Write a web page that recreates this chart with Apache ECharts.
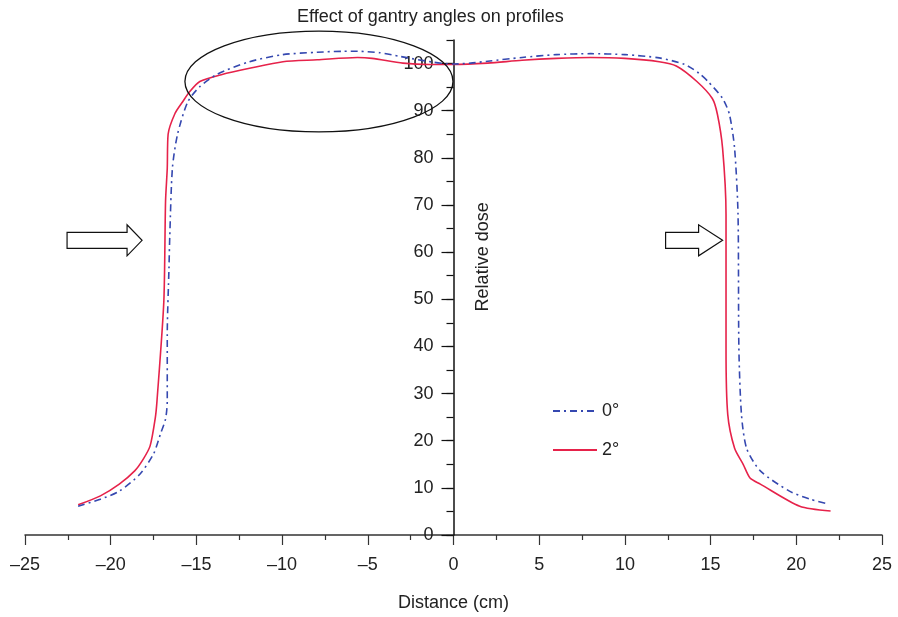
<!DOCTYPE html>
<html><head><meta charset="utf-8">
<script src="https://cdn.jsdelivr.net/npm/echarts@6/dist/echarts.min.js"></script>
<style>html,body{margin:0;padding:0;background:#fff}#c{width:898px;height:617px}</style>
</head><body><div id="c"></div>
<script>
// ---- data ----
const titleText = 'Effect of gantry angles on profiles';
const seriesNames = ['0\u00b0', '2\u00b0'];
const xTickValues = [-25, -20, -15, -10, -5, 0, 5, 10, 15, 20, 25];
const yTickValues = [0, 10, 20, 30, 40, 50, 60, 70, 80, 90, 100];

// 0 degree profile (blue dash-dot)
const x0deg = [-21.9, -20.6, -19.5, -18.3, -17.5, -17.1, -16.8, -16.7, -16.7, -16.6, -16.55, -16.4, -16.1, -15.5, -14.8, -13.8, -11.9, -9.95, -7.95, -6.45, -5.6, -4.3, -3.1, -1.2, 0,
               1, 2, 4, 6, 8, 10, 12, 13.5, 14.3, 14.85, 15.7, 16.1, 16.4, 16.6, 16.65, 16.8, 17.1, 17.9, 19.6, 20.8, 21.85];
const y0deg = [6.1, 7.6, 9.3, 12.9, 17.2, 21.4, 24.6, 28.4, 42.6, 56.6, 63.8, 77.8, 85, 91.9, 95.1, 97.7, 100.4, 101.9, 102.4, 102.6, 102.6, 102.3, 101.5, 100.3, 99.9,
               100.1, 100.5, 101.3, 101.9, 102.1, 101.9, 101.2, 99.8, 98, 96.2, 92.6, 89.2, 82, 68, 39.6, 25.6, 18.4, 13.6, 9.3, 7.6, 6.6];

// 2 degree profile (red solid)
const x2deg = [-21.9, -20.6, -19.5, -18.6, -18.1, -17.7, -17.4, -17.3, -16.9, -16.8, -16.7, -16.65, -16.25, -15.8, -15.4, -14.8, -13.5, -11.9, -9.95, -7.95, -5.6, -4.75, -2.95, -1.4, 0,
               2, 4, 6, 8, 10, 12, 13, 14.2, 15.1, 15.4, 15.7, 15.9, 15.9, 16.0, 16.4, 16.9, 17.3, 17.9, 20.2, 22.0];
const y2deg = [6.4, 8.3, 10.8, 13.6, 16.1, 18.9, 24.8, 28.4, 49.6, 70.8, 77.8, 85, 89.4, 91.9, 94, 96.2, 97.7, 99, 100.4, 100.8, 101.3, 101.1, 100.1, 99.8, 99.8,
               100.1, 100.7, 101.1, 101.3, 101.1, 100.4, 99.5, 96.2, 92.6, 89.2, 82, 68, 39.6, 25.6, 18.4, 15, 12.1, 10.8, 6.1, 5.1];

// annotation anchors in data units
const ellipseCenter = [-7.85, 96.2];
const ellipseRadii = [7.82, 10.7];
const leftArrowTip = [-18.17, 62.5];
const rightArrowTip = [15.7, 62.5];
const yNameAnchor = [1.72, 59];

const zip = (xs, ys) => xs.map((x, i) => [x, ys[i]]);
const fmt = v => (v < 0 ? '\u2013' + Math.abs(v) : String(v));
const FONT = '"Liberation Sans", Arial, Helvetica, sans-serif';
const AX = '#333';
const GRID = { top: 40, bottom: 82 };

const chart = echarts.init(document.getElementById('c'));
const baseOption = {
  animation: false,
  backgroundColor: '#fff',
  textStyle: { fontFamily: FONT },
  title: {
    text: titleText, left: 292, top: 3,
    textStyle: { fontSize: 18, fontWeight: 'normal', color: '#222', fontFamily: FONT }
  },
  legend: {
    orient: 'vertical', left: 547, top: 397,
    itemWidth: 44, itemHeight: 14, itemGap: 21,
    itemStyle: { opacity: 0 },
    textStyle: { fontSize: 18, color: '#222', fontFamily: FONT },
    data: seriesNames
  },
  grid: [
    { left: 25, right: 16, top: GRID.top, bottom: GRID.bottom, containLabel: false, outerBoundsMode: 'none' }
  ],
  xAxis: [{
    type: 'value', min: -25, max: 25, interval: 5, gridIndex: 0,
    name: 'Distance (cm)', nameLocation: 'middle', nameGap: 59,
    nameTextStyle: { fontSize: 18, color: '#222', fontFamily: FONT },
    axisLine: { onZero: false, lineStyle: { color: AX, width: 1.5 } },
    axisTick: { show: true, length: 10, lineStyle: { color: AX, width: 1.2 } },
    minorTick: { show: true, splitNumber: 2, length: 5, lineStyle: { color: AX, width: 1.2 } },
    axisLabel: { fontSize: 18, color: '#222', margin: 21, formatter: fmt, fontFamily: FONT },
    splitLine: { show: false }, minorSplitLine: { show: false }
  }],
  yAxis: [{
    type: 'value', min: 0, max: 105, interval: 5, gridIndex: 0, position: 'left',
    show: false, splitLine: { show: false }
  }],
  series: [{
    name: seriesNames[0], type: 'line', data: zip(x0deg, y0deg), showSymbol: false, symbol: 'none',
    smooth: 0.25, z: 3,
    lineStyle: { color: '#3548b0', width: 1.6, type: [7, 4, 2, 4] },
    itemStyle: { color: '#3548b0' }
  }, {
    name: seriesNames[1], type: 'line', data: zip(x2deg, y2deg), showSymbol: false, symbol: 'none',
    smooth: 0.25, z: 2,
    lineStyle: { color: '#e6224a', width: 1.6, type: 'solid' },
    itemStyle: { color: '#e6224a' }
  }]
};
chart.setOption(baseOption);

const px = d => chart.convertToPixel({ xAxisIndex: 0, yAxisIndex: 0 }, d);
const zeroX = px([0, 0])[0];

function arrowPoints(tip, bodyLen, headLen, bodyHalf, headHalf) {
  const [tx, ty] = tip;
  return [[tx - bodyLen - headLen, ty - bodyHalf], [tx - headLen, ty - bodyHalf], [tx - headLen, ty - headHalf],
          [tx, ty], [tx - headLen, ty + headHalf], [tx - headLen, ty + bodyHalf], [tx - bodyLen - headLen, ty + bodyHalf]];
}
const ec = px(ellipseCenter);
const er = px([ellipseCenter[0] + ellipseRadii[0], ellipseCenter[1] + ellipseRadii[1]]);
const lt = px(leftArrowTip), rt = px(rightArrowTip), yn = px(yNameAnchor);

// second grid whose left edge sits on x = 0 : carries the visible y axis
chart.setOption({
  grid: [
    { left: 25, right: 16, top: GRID.top, bottom: GRID.bottom, containLabel: false, outerBoundsMode: 'none' },
    { left: zeroX, width: 10, top: GRID.top, bottom: GRID.bottom, containLabel: false, outerBoundsMode: 'none' }
  ],
  xAxis: [{}, { type: 'value', gridIndex: 1, show: false, min: 0, max: 1 }],
  yAxis: [{}, {
    type: 'value', min: 0, max: 105, interval: 10, gridIndex: 1, position: 'left',
    axisLine: { show: true, onZero: false, lineStyle: { color: '#111', width: 1.5 } },
    axisTick: { show: true, length: 12, lineStyle: { color: '#111', width: 1.2 }, customValues: yTickValues },
    axisLabel: { fontSize: 18, color: '#222', margin: 20, fontFamily: FONT, customValues: yTickValues,
                 formatter: v => (v > 100 ? '' : String(v)) },
    splitLine: { show: false }
  }, {
    type: 'value', min: 0, max: 105, interval: 5, gridIndex: 1, position: 'left',
    axisLine: { show: false, onZero: false },
    axisTick: { show: true, length: 7, lineStyle: { color: '#111', width: 1.2 } },
    axisLabel: { show: false },
    splitLine: { show: false }
  }],
  graphic: [
    { type: 'ellipse', shape: { cx: ec[0], cy: ec[1], rx: er[0] - ec[0], ry: ec[1] - er[1] },
      style: { fill: 'none', stroke: '#111', lineWidth: 1.3 }, z: 10 },
    { type: 'polygon', shape: { points: arrowPoints(lt, 60, 15, 8, 15.5) },
      style: { fill: '#fff', stroke: '#111', lineWidth: 1.2 }, z: 10 },
    { type: 'polygon', shape: { points: arrowPoints(rt, 33, 24, 8, 15.5) },
      style: { fill: '#fff', stroke: '#111', lineWidth: 1.2 }, z: 10 },
    { type: 'text', x: yn[0], y: yn[1], rotation: Math.PI / 2,
      style: { text: 'Relative dose', fontSize: 18, fontFamily: FONT, fill: '#222', align: 'center', verticalAlign: 'middle' }, z: 10 }
  ]
});
</script>
</body></html>
